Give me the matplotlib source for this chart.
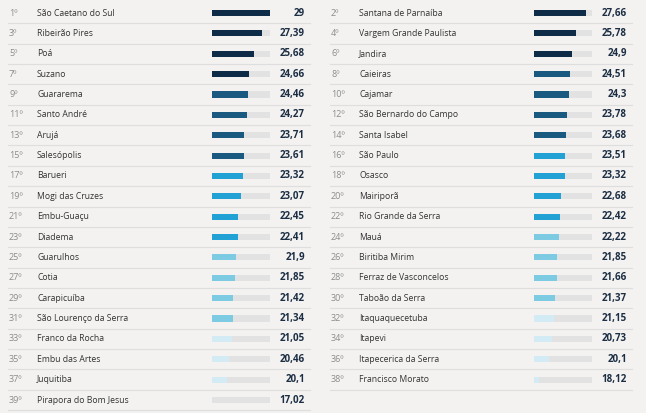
import matplotlib
matplotlib.use("Agg")
import matplotlib.pyplot as plt

# ranking data (odd ranks left column, even ranks right column)
left_ranks = [1, 3, 5, 7, 9, 11, 13, 15, 17, 19, 21, 23, 25, 27, 29, 31, 33, 35, 37, 39]
left_names = ["São Caetano do Sul", "Ribeirão Pires", "Poá", "Suzano", "Guararema",
              "Santo André", "Arujá", "Salesópolis", "Barueri", "Mogi das Cruzes",
              "Embu-Guaçu", "Diadema", "Guarulhos", "Cotia", "Carapicuíba",
              "São Lourenço da Serra", "Franco da Rocha", "Embu das Artes",
              "Juquitiba", "Pirapora do Bom Jesus"]
left_values = [29, 27.39, 25.68, 24.66, 24.46, 24.27, 23.71, 23.61, 23.32, 23.07,
               22.45, 22.41, 21.9, 21.85, 21.42, 21.34, 21.05, 20.46, 20.1, 17.02]

right_ranks = [2, 4, 6, 8, 10, 12, 14, 16, 18, 20, 22, 24, 26, 28, 30, 32, 34, 36, 38]
right_names = ["Santana de Parnaíba", "Vargem Grande Paulista", "Jandira", "Caieiras",
               "Cajamar", "São Bernardo do Campo", "Santa Isabel", "São Paulo", "Osasco",
               "Mairiporã", "Rio Grande da Serra", "Mauá", "Biritiba Mirim",
               "Ferraz de Vasconcelos", "Taboão da Serra", "Itaquaquecetuba", "Itapevi",
               "Itapecerica da Serra", "Francisco Morato"]
right_values = [27.66, 25.78, 24.9, 24.51, 24.3, 23.78, 23.68, 23.51, 23.32, 22.68,
                22.42, 22.22, 21.85, 21.66, 21.37, 21.15, 20.73, 20.1, 18.12]

# colour tiers by rank
tier_limits = [7, 15, 23, 31, 39]
tier_colors = ["#0e2c48", "#1a5a80", "#22a1d5", "#7dcae3", "#d3ebf5"]
track_color = "#e2e2e2"
bg = "#f3f2f0"

W, H = 646, 413
row0, step = 13, 20.37
ylim = ((H - row0) / step, -row0 / step)

fig = plt.figure(figsize=(W / 100, H / 100), dpi=100, facecolor=bg)
ax = fig.add_axes([0, 0, 1, 1])
ax.set_xlim(0, W)
ax.set_ylim(*ylim)
ax.axis("off")
ax.set_facecolor(bg)

font = ["Open Sans", "DejaVu Sans"]


def tier_color(rank):
    for lim, c in zip(tier_limits, tier_colors):
        if rank <= lim:
            return c
    return tier_colors[-1]


def fmt(v):
    return f"{v:g}".replace(".", ",")


def draw_column(ranks, names, values, x0):
    rows = list(range(len(ranks)))
    for i, r, n, v in zip(rows, ranks, names, values):
        ax.text(x0 + 1, i, f"{r}º", ha="left", va="center", fontsize=6.5,
                color="#8c8c8c", family=font)
        ax.text(x0 + 29, i, n, ha="left", va="center", fontsize=6.2,
                color="#333333", family=font)
        ax.text(x0 + 297, i, fmt(v), ha="right", va="center", fontsize=7.0,
                color="#1c2e44", fontweight="bold", family=font)
        ax.plot([x0, x0 + 302], [i + 0.5, i + 0.5], color="#dedede", lw=0.8)
    bax = fig.add_axes([(x0 + 204) / W, 0, 58 / W, 1])
    bax.set_xlim(17, 29)
    bax.set_ylim(*ylim)
    bax.axis("off")
    bax.barh(rows, [29] * len(rows), height=0.3, color=track_color)
    bax.barh(rows, values, height=0.3, color=[tier_color(r) for r in ranks])


draw_column(left_ranks, left_names, left_values, 8)
draw_column(right_ranks, right_names, right_values, 330)

fig.savefig("out.png", dpi=100, facecolor=bg)
